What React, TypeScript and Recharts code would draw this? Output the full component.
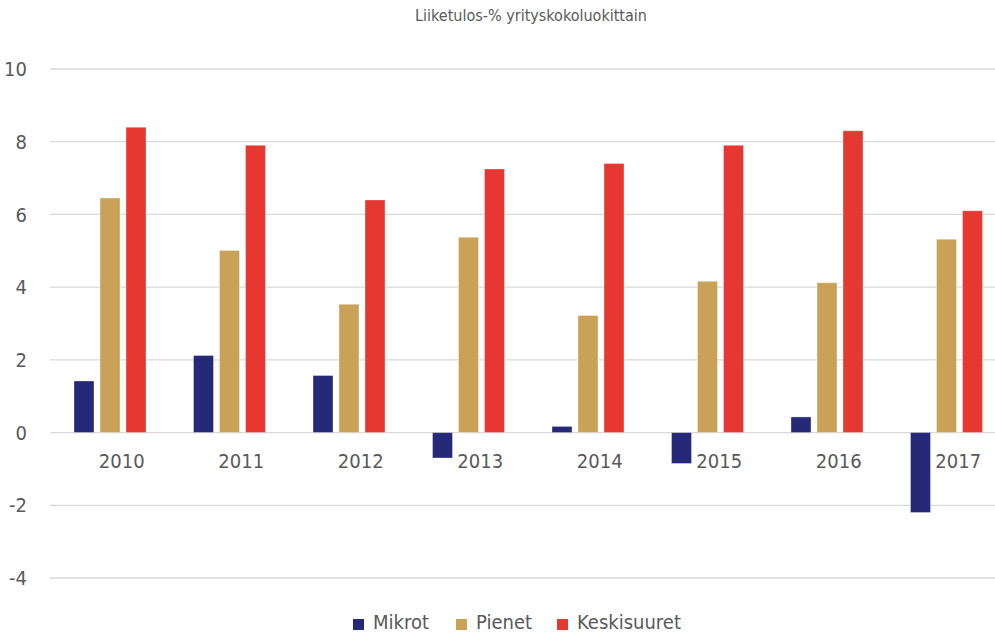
import { Bar, BarChart, CartesianGrid, XAxis, YAxis } from "recharts";

const years = ["2010", "2011", "2012", "2013", "2014", "2015", "2016", "2017"];
const mikrot = [1.42, 2.12, 1.57, -0.7, 0.17, -0.85, 0.43, -2.2];
const pienet = [6.45, 5.01, 3.53, 5.37, 3.22, 4.16, 4.12, 5.32];
const keskisuuret = [8.4, 7.9, 6.4, 7.25, 7.4, 7.9, 8.3, 6.1];
const yTicks = [-4, -2, 0, 2, 4, 6, 8, 10];

const seriesInfo = [
  { key: "mikrot", name: "Mikrot", color: "#262878" },
  { key: "pienet", name: "Pienet", color: "#C9A157" },
  { key: "keskisuuret", name: "Keskisuuret", color: "#E63731" },
];

const data = years.map((year, i) => ({
  year,
  mikrot: mikrot[i],
  pienet: pienet[i],
  keskisuuret: keskisuuret[i],
}));

const FONT = '"DejaVu Sans Condensed", "DejaVu Sans", sans-serif';
const TEXT = "#595959";
const W = 1010;
const H = 634;
const X_AXIS_H = 30;
const M = { top: 69, right: 4, bottom: 56 - X_AXIS_H, left: 0 };
const Y_MIN = -4;
const Y_MAX = 10;
// distance from the plot bottom up to the zero line, so year labels sit under y=0
const plotH = H - M.top - M.bottom - X_AXIS_H;
const zeroUp = (plotH * (0 - Y_MIN)) / (Y_MAX - Y_MIN);
const legendLeft = [353, 456, 557];

function YearTick(props: any) {
  const { x, y, payload } = props;
  return (
    <text
      x={x + 12}
      y={y - zeroUp + 35}
      textAnchor="middle"
      fill={TEXT}
      fontFamily={FONT}
      style={{ fontStretch: "condensed" }}
      fontSize={20}
    >
      {payload.value}
    </text>
  );
}

function LegendBox() {
  return (
    <div style={{ fontFamily: FONT, fontStretch: "condensed", fontSize: 20, color: TEXT }}>
      {seriesInfo.map((s, i) => (
        <div
          key={s.key}
          style={{ position: "absolute", top: 610, left: legendLeft[i], display: "flex", alignItems: "center" }}
        >
          <span style={{ width: 11, height: 11, background: s.color, marginRight: 9, marginTop: 4 }} />
          <span>{s.name}</span>
        </div>
      ))}
    </div>
  );
}

export default function App() {
  return (
    <div style={{ position: "fixed", left: 0, top: 0, width: 995, height: 634, overflow: "hidden", background: "#fff" }}>
      <div
        style={{
          position: "absolute",
          top: 6,
          left: 0,
          width: 1062,
          textAlign: "center",
          fontFamily: FONT,
          fontStretch: "condensed",
          fontSize: 16,
          color: TEXT,
        }}
      >
        Liiketulos-% yrityskokoluokittain
      </div>
      <BarChart width={W} height={H} data={data} margin={M} barGap={6} barSize={20}>
        <CartesianGrid vertical={false} stroke="#d9d9d9" strokeWidth={1.3} />
        <XAxis
          dataKey="year"
          axisLine={false}
          tickLine={false}
          tickSize={0}
          tickMargin={0}
          height={X_AXIS_H}
          tick={<YearTick />}
          interval={0}
        />
        <YAxis
          domain={[Y_MIN, Y_MAX]}
          ticks={yTicks}
          width={50}
          axisLine={false}
          tickLine={false}
          tickSize={0}
          tickMargin={23}
          tick={{ fill: TEXT, fontFamily: FONT, fontSize: 20, style: { fontStretch: "condensed" } }}
          allowDataOverflow
        />
        {seriesInfo.map((s) => (
          <Bar
            key={s.key}
            dataKey={s.key}
            name={s.name}
            fill={s.color}
            stroke="#ffffff"
            strokeOpacity={0.35}
            strokeWidth={1}
            isAnimationActive={false}
          />
        ))}
      </BarChart>
      <LegendBox />
    </div>
  );
}
